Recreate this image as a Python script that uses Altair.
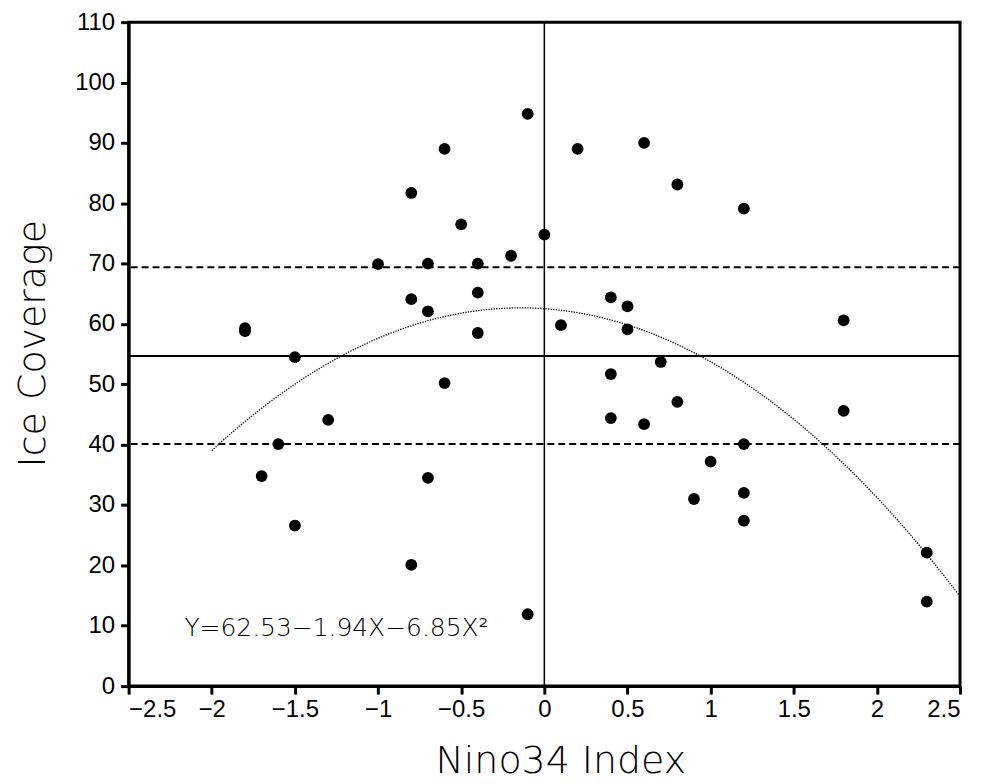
import altair as alt
import pandas as pd

# Scatter data
nino = [-1.8, -1.8, -1.5, -1.6, -1.7, -1.5, -1.3, -1.0, -0.8, -0.8, -0.8,
        -0.7, -0.7, -0.7, -0.6, -0.6, -0.5, -0.4, -0.4, -0.4, -0.2, -0.1,
        -0.1, 0.0, 0.1, 0.2, 0.4, 0.4, 0.4, 0.5, 0.5, 0.6, 0.6, 0.7, 0.8,
        0.8, 0.9, 1.0, 1.2, 1.2, 1.2, 1.2, 1.8, 1.8, 2.3, 2.3]
ice = [59.3, 58.8, 54.5, 40.1, 34.8, 26.6, 44.1, 69.9, 81.7, 64.1, 20.1,
       70.0, 62.1, 34.5, 89.0, 50.2, 76.5, 70.0, 65.2, 58.5, 71.3, 94.8,
       11.9, 74.8, 59.8, 89.0, 64.4, 51.7, 44.4, 62.9, 59.1, 90.0, 43.4,
       53.7, 83.1, 47.1, 31.0, 37.2, 79.1, 40.1, 32.0, 27.4, 60.6, 45.6,
       22.1, 14.0]

mean_line = [54.7]
band_lines = [69.4, 40.1]
zero_line = [0.0]
coef = [62.53, -1.94, -6.85]
curve_range = [-2.0, 2.5]
x_ticks = [-2.5, -2, -1.5, -1, -0.5, 0, 0.5, 1, 1.5, 2, 2.5]
y_ticks = [0, 10, 20, 30, 40, 50, 60, 70, 80, 90, 100, 110]
equation = "Y=62.53\u22121.94X\u22126.85X\u00b2"
eq_pos = [-1.25, 9.6]

xscale = alt.Scale(domain=[-2.5, 2.5], nice=False, zero=False)
yscale = alt.Scale(domain=[0, 110], nice=False, zero=False)

pts = pd.DataFrame({"x": nino, "y": ice})

points = alt.Chart(pts).mark_circle(size=140, color="black", opacity=1).encode(
    x=alt.X("x:Q", scale=xscale, title="Nino34 Index",
            axis=alt.Axis(values=x_ticks, format="~g", titlePadding=22,
                          labelPadding=3, titleX=433)),
    y=alt.Y("y:Q", scale=yscale, title="Ice Coverage",
            axis=alt.Axis(values=y_ticks, format="~g", titlePadding=22,
                          labelPadding=6, titleY=322)),
)

vrule = alt.Chart(pd.DataFrame({"x": zero_line})).mark_rule(
    color="black", strokeWidth=1.5).encode(x=alt.X("x:Q", scale=xscale))

hmean = alt.Chart(pd.DataFrame({"y": mean_line})).mark_rule(
    color="black", strokeWidth=2).encode(y=alt.Y("y:Q", scale=yscale))

hband = alt.Chart(pd.DataFrame({"y": band_lines})).mark_rule(
    color="black", strokeWidth=2, strokeDash=[7, 4]).encode(
    y=alt.Y("y:Q", scale=yscale))

curve = alt.Chart(alt.sequence(curve_range[0], curve_range[1] + 0.001, 0.02, as_="x")).transform_calculate(
    y=f"{coef[0]} + ({coef[1]})*datum.x + ({coef[2]})*datum.x*datum.x"
).mark_line(color="black", strokeWidth=1.3, strokeDash=[1.3, 1.3]).encode(
    x=alt.X("x:Q", scale=xscale), y=alt.Y("y:Q", scale=yscale))

eq_text = alt.Chart(pd.DataFrame({"x": [eq_pos[0]], "y": [eq_pos[1]], "t": [equation]})).mark_text(
    font="DejaVu Sans", fontSize=25, fontWeight=200, color="black", align="center", baseline="middle"
).encode(x=alt.X("x:Q", scale=xscale), y=alt.Y("y:Q", scale=yscale), text="t:N")

chart = alt.layer(hband, hmean, vrule, curve, points, eq_text).properties(
    width=834, height=666, padding={"left": 6, "top": 1, "right": 10, "bottom": 0}
).configure_view(stroke="black", strokeWidth=3).configure_axis(
    grid=False, domainColor="black", domainWidth=3, tickColor="black", tickWidth=3,
    tickSize=8, labelFont="Liberation Sans", labelFontSize=24, labelColor="black",
    titleFont="DejaVu Sans", titleFontSize=38, titleFontWeight=200,
    titleColor="black"
)

chart.save("out.html", embed_options={"renderer": "svg", "actions": False})
